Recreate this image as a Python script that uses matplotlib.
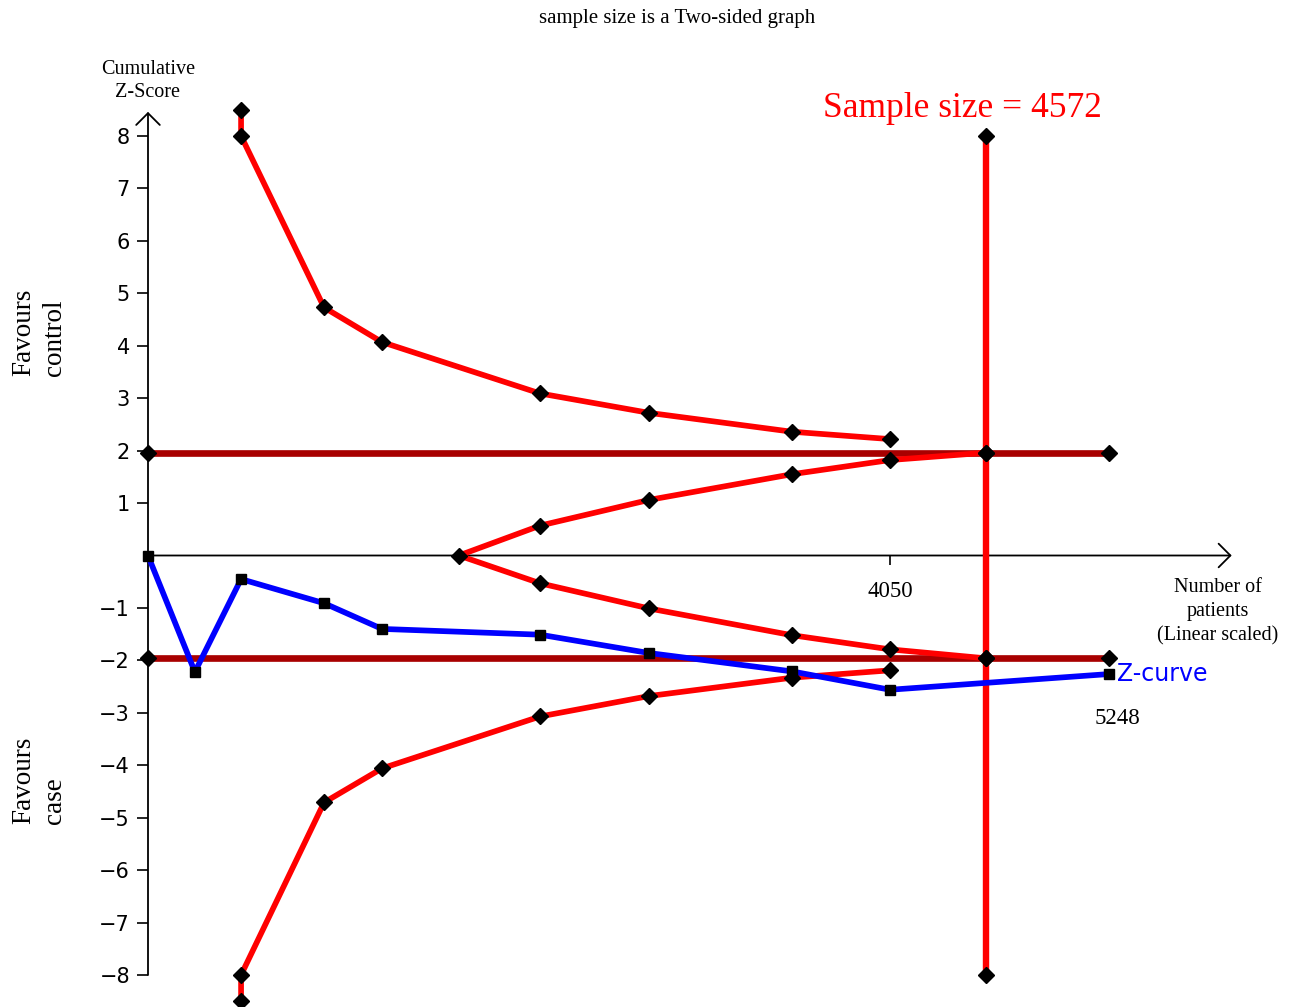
import matplotlib
matplotlib.use("Agg")
import matplotlib.pyplot as plt

# --- Trial sequential analysis data ---

# cumulative number of patients after each trial
patients = [0, 256, 508, 961, 1277, 2140, 2735, 3515, 4050, 5248]
z_curve = [0, -2.22, -0.45, -0.91, -1.40, -1.51, -1.86, -2.21, -2.56, -2.26]

# monitoring boundaries (first point is capped at +/-8)
bound_n = [508, 508, 961, 1277, 2140, 2735, 3515, 4050]
bound_upper = [8.5, 8.0, 4.73, 4.07, 3.09, 2.72, 2.36, 2.22]
bound_lower = [-8.5, -8.0, -4.71, -4.06, -3.07, -2.68, -2.33, -2.19]

# futility (inner wedge) boundaries
futility_n = [1697, 2140, 2735, 3515, 4050, 4572]
futility_upper = [0, 0.57, 1.06, 1.55, 1.82, 1.96]
futility_lower = [0, -0.53, -1.01, -1.52, -1.79, -1.96]

required_size = 4572
conventional_z = 1.96
total_n = 5248
y_ticks = [-8, -7, -6, -5, -4, -3, -2, -1, 1, 2, 3, 4, 5, 6, 7, 8]
x_ticks = [4050]

RED = "#ff0000"
DARKRED = "#a80000"
BLUE = "#0000ff"
SERIF = "Liberation Serif"

W, H = 1298, 1007
fig = plt.figure(figsize=(W / 100, H / 100), dpi=100)
ax = fig.add_axes([0, 0, 1, 1])

# linear scale: 0 patients at px 148, 4050 at px 890; z=0 at px 555.5, 52.44 px per unit
xs = 742 / 4050
ax.set_xlim(-148 / xs, (W - 148) / xs)
ax.set_ylim(555.5 / 52.44 - H / 52.44, 555.5 / 52.44)
ax.patch.set_visible(False)


def fig_px(x, y):
    return x / W, 1 - y / H


# conventional boundaries
for z in (conventional_z, -conventional_z):
    ax.plot([0, total_n], [z, z], color=DARKRED, lw=4.8, zorder=2, solid_capstyle="butt")

# required information size
ax.plot([required_size, required_size], [-8, 8], color=RED, lw=4.6, zorder=3)

# monitoring and futility boundaries
for xv, yv in [(bound_n, bound_upper), (bound_n, bound_lower),
               (futility_n, futility_upper), (futility_n, futility_lower)]:
    ax.plot(xv, yv, color=RED, lw=4.1, zorder=3, solid_joinstyle="round")

# z-curve
ax.plot(patients, z_curve, color=BLUE, lw=4.1, zorder=5, solid_joinstyle="round")

# markers on top
diamond = dict(ls="none", marker="D", ms=8, color="black", zorder=6)
ax.plot(bound_n, bound_upper, **diamond)
ax.plot(bound_n, bound_lower, **diamond)
ax.plot(futility_n, futility_upper, **diamond)
ax.plot(futility_n[1:], futility_lower[1:], **diamond)
ax.plot([0, required_size, total_n] * 2,
        [conventional_z] * 3 + [-conventional_z] * 3, **diamond)
ax.plot([required_size] * 2, [8, -8], **diamond)
ax.plot(patients, z_curve, ls="none", marker="s", ms=7.5, color="black", zorder=7)

# axes drawn as arrows through the origin
arrow = dict(arrowstyle="->,head_length=0.85,head_width=0.85", lw=1.3, color="black",
             shrinkA=0, shrinkB=0)
ax.annotate("", xy=(0, 8.46), xytext=(0, -8), arrowprops=arrow, zorder=1)
ax.annotate("", xy=(5915, 0), xytext=(0, 0), arrowprops=arrow, zorder=1)

for side in ["left", "bottom"]:
    ax.spines[side].set_position(("data", 0))
for s in ax.spines.values():
    s.set_visible(False)

ax.set_yticks(y_ticks)
ax.set_xticks(x_ticks)
ax.tick_params(axis="y", direction="out", length=8, width=1.2, pad=5, labelsize=15)
ax.tick_params(axis="x", direction="out", length=6.5, width=1.2, pad=12, labelsize=16.5,
               labelfontfamily=SERIF)

# labels
fig.text(*fig_px(677, 18), "sample size is a Two-sided graph", family=SERIF,
         fontsize=15, ha="center", va="center")
fig.text(*fig_px(148, 81), "Cumulative\nZ-Score", family=SERIF, fontsize=14.5,
         ha="center", va="center", linespacing=1.35)
fig.text(*fig_px(1218, 612), "Number of\npatients\n(Linear scaled)", family=SERIF,
         fontsize=14.5, ha="center", va="center", linespacing=1.35)
fig.text(*fig_px(11, 376), "Favours\ncontrol", family=SERIF, fontsize=19.5,
         rotation=90, ha="left", va="bottom", multialignment="left", linespacing=1.3)
fig.text(*fig_px(11, 824), "Favours\ncase", family=SERIF, fontsize=19.5,
         rotation=90, ha="left", va="bottom", multialignment="left", linespacing=1.3)

ax.text((823 - 148) / xs, (555.5 - 117) / 52.44, f"Sample size = {required_size}",
        family=SERIF, fontsize=25.5, color=RED, ha="left", va="baseline")
ax.text(total_n + 40, z_curve[-1], "Z-curve", fontsize=17, color=BLUE,
        ha="left", va="center")
fig.text(*fig_px(1117, 718), str(total_n), family=SERIF, fontsize=16.5,
         ha="center", va="center")

fig.savefig("out.png", dpi=100)
